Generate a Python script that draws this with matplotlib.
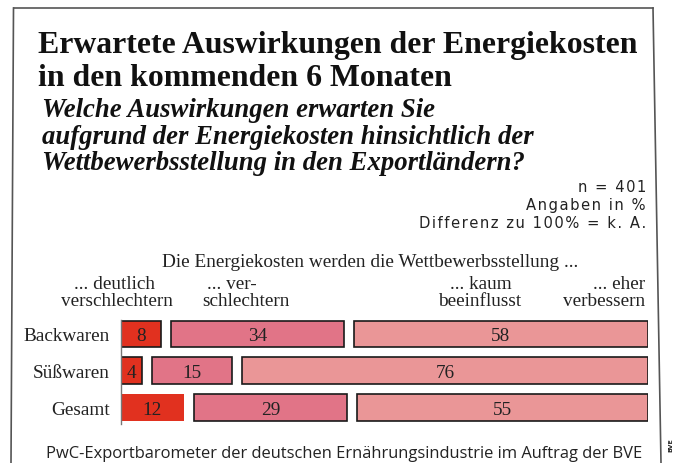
import matplotlib
matplotlib.use("Agg")
import matplotlib.pyplot as plt
from matplotlib.lines import Line2D

# --- Daten ---
rows = ["Backwaren", "Süßwaren", "Gesamt"]
deutlich = [8, 4, 12]
verschlechtern = [34, 15, 29]
kaum = [58, 76, 55]
series = [deutlich, verschlechtern, kaum]
colors = ["#e1311f", "#e17487", "#ea9697"]

title = ["Erwartete Auswirkungen der Energiekosten", "in den kommenden 6 Monaten"]
question = ["Welche Auswirkungen erwarten Sie",
            "aufgrund der Energiekosten hinsichtlich der",
            "Wettbewerbsstellung in den Exportländern?"]
notes = ["n = 401", "Angaben in %", "Differenz zu 100% = k. A."]
lead = "Die Energiekosten werden die Wettbewerbsstellung ..."
source = "PwC-Exportbarometer der deutschen Ernährungsindustrie im Auftrag der BVE"

W, H = 676, 464
fig = plt.figure(figsize=(W / 100, H / 100), dpi=100)
renderer = fig.canvas.get_renderer()


def put(x, y, s, **kw):
    # Pixelkoordinaten (von oben gemessen) -> Figure-Koordinaten
    kw.setdefault("va", "baseline")
    return fig.text(x / W, 1 - y / H, s, **kw)


def fit(t, width):
    w = t.get_window_extent(renderer).width
    t.set_fontsize(t.get_fontsize() * width / w)
    return t.get_fontsize()


def spaced(s):
    return "\u200a".join(s)


serif = "Liberation Serif"

# --- Titel ---
t1 = put(38.5, 52.5, title[0], family=serif, weight="bold", fontsize=20, color="#111")
fs = fit(t1, 598)
put(38.5, 86, title[1], family=serif, weight="bold", fontsize=fs, color="#111")

q2 = put(42.5, 144, question[1], family=serif, weight="bold", style="italic",
         fontsize=14, color="#111")
fq = fit(q2, 494)
put(42.5, 117, question[0], family=serif, weight="bold", style="italic", fontsize=fq, color="#111")
put(42.5, 170.5, question[2], family=serif, weight="bold", style="italic", fontsize=fq, color="#111")

# --- Hinweise rechts ---
n3 = put(646, 228.5, spaced(notes[2]), family="DejaVu Sans", fontsize=8.6, ha="right", color="#222")
fn = fit(n3, 223)
put(646, 192, spaced(notes[0]), family="DejaVu Sans", fontsize=fn, ha="right", color="#222")
put(646, 210, spaced(notes[1]), family="DejaVu Sans", fontsize=fn, ha="right", color="#222")

# --- Spaltenköpfe ---
ld = put(370, 267, lead, family=serif, fontsize=13, ha="center", color="#222")
fl = fit(ld, 416)
put(114, 289.5, "... deutlich", family=serif, fontsize=fl, ha="center", color="#222")
put(117, 306.5, "verschlechtern", family=serif, fontsize=fl, ha="center", color="#222")
put(232, 289.5, "... ver-", family=serif, fontsize=fl, ha="center", color="#222")
put(246, 306.5, "schlechtern", family=serif, fontsize=fl, ha="center", color="#222")
put(481, 289.5, "... kaum", family=serif, fontsize=fl, ha="center", color="#222")
put(480, 306.5, "beeinflusst", family=serif, fontsize=fl, ha="center", color="#222")
put(645, 289.5, "... eher", family=serif, fontsize=fl, ha="right", color="#222")
put(645, 306.5, "verbessern", family=serif, fontsize=fl, ha="right", color="#222")

# --- Balken ---
ax = fig.add_axes([120.7 / W, 1 - 425 / H, 527 / W, 104 / H])
gap = 2.0
for i, name in enumerate(rows):
    vals = [s[i] for s in series]
    total = sum(vals)
    left = 0
    for j, v in enumerate(vals):
        w = v / total * 100
        edge = "none" if (name == "Gesamt" and j == 0) else "#1a1a1a"
        ax.barh(i, w, left=left, height=0.725, color=colors[j], edgecolor=edge, linewidth=1.2)
        ax.text(left + w / 2, i + 0.05, str(v), ha="center", va="center",
                family=serif, fontsize=fl, color="#222")
        left += w + gap

ax.set_xlim(0, 100 + 2 * gap)
ax.set_ylim(2 + (425 - 408.3) / 36.7, -(335 - 321) / 36.7)
ax.set_yticks(range(len(rows)))
ax.set_yticklabels(rows, family=serif, fontsize=fl, color="#222")
ax.tick_params(axis="y", length=0, pad=8)
ax.set_xticks([])
for side in ["top", "right", "bottom"]:
    ax.spines[side].set_visible(False)
ax.spines["left"].set_color("#777")
ax.spines["left"].set_linewidth(1)
ax.patch.set_visible(False)

# --- Quelle ---
src = put(46, 458, source, family="Open Sans", fontsize=11, color="#222")
fit(src, 597)
put(671, 452, "BVE", family="DejaVu Sans", weight="bold", fontsize=4.5, rotation=90,
    ha="center", va="bottom", color="#222")

# --- Rahmen ---
for xs, ys in [((13.5, 11), (9, 464)), ((13.5, 653), (9, 9)), ((653, 661), (9, 464))]:
    fig.add_artist(Line2D([x / W for x in xs], [1 - y / H for y in ys],
                          color="#555", lw=1.2, transform=fig.transFigure))

fig.savefig("out.png", dpi=100)
